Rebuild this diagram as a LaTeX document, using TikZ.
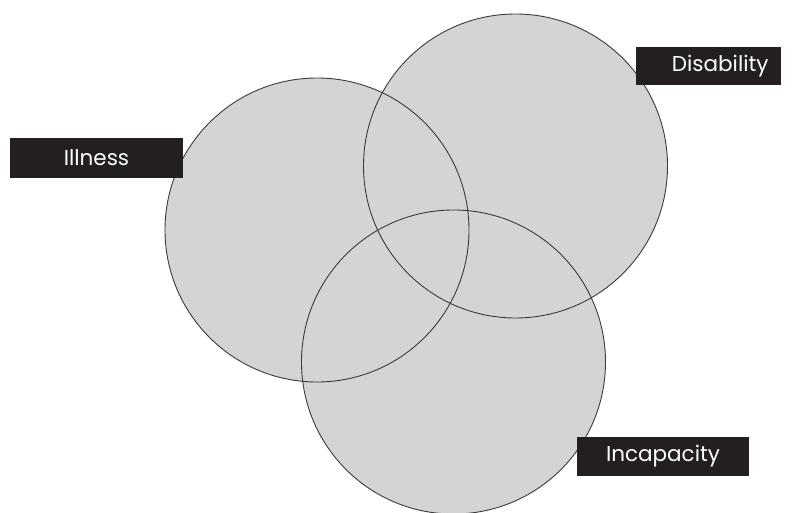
\documentclass[tikz,border=0pt]{standalone}
\usepackage{fontspec}
\setmainfont{Poppins}
\usepackage{xcolor}
\usepackage{tikz}
\usetikzlibrary{calc, positioning}

\definecolor{vennfill}{HTML}{D3D4D6}
\definecolor{vennline}{HTML}{3A3A3A}
\definecolor{tagfill}{HTML}{231F20}

\tikzset{
  tag/.style={fill=tagfill, text=white, inner sep=0pt, font=\fontsize{21.5}{21.5}\selectfont},
}

\begin{document}
\begin{tikzpicture}[x=1pt, y=-1pt]
    \useasboundingbox (0,0) rectangle (797,513);
    % 1. Ba hình tròn (tô nền trước, viền sau)
    \foreach \cx/\cy in {317/230, 515.5/166, 453.5/362}
        \fill[vennfill] (\cx,\cy) circle (152);
    \foreach \cx/\cy in {317/230, 515.5/166, 453.5/362}
        \draw[vennline, line width=0.9pt] (\cx,\cy) circle (152);

    % 2. Nhãn
    \node[tag, minimum width=173pt, minimum height=40pt] (illness) at (96.5,158) {Illness};
    \node[tag, minimum width=145pt, minimum height=38pt, text width=120pt, align=right] (disability) at (708.5,66) {Disability};
    \node[tag, minimum width=172pt, minimum height=39pt] (incapacity) at (663,456.5) {Incapacity};
\end{tikzpicture}
\end{document}
